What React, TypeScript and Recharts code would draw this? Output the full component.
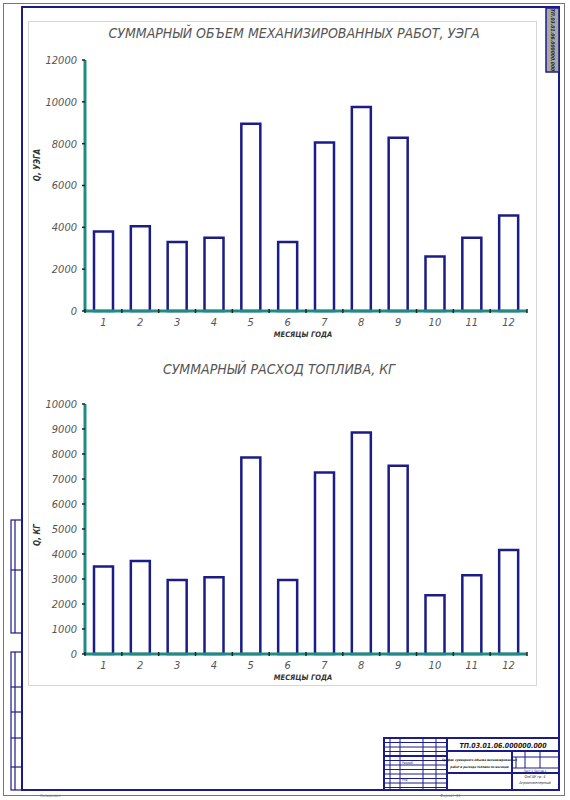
import { Bar, BarChart, XAxis, YAxis } from "recharts";

// месяцы года
const months = ["1", "2", "3", "4", "5", "6", "7", "8", "9", "10", "11", "12"];
// суммарный объем механизированных работ, у.э.га
const workVolume = [3800, 4050, 3300, 3500, 8950, 3300, 8050, 9750, 8280, 2600, 3500, 4560];
// суммарный расход топлива, кг
const fuelUse = [3500, 3720, 2960, 3070, 7860, 2960, 7260, 8860, 7530, 2350, 3150, 4160];
const workTicks = [0, 2000, 4000, 6000, 8000, 10000, 12000];
const fuelTicks = [0, 1000, 2000, 3000, 4000, 5000, 6000, 7000, 8000, 9000, 10000];

const workData = months.map((m, i) => ({ month: m, value: workVolume[i] }));
const fuelData = months.map((m, i) => ({ month: m, value: fuelUse[i] }));

const NAVY = "#1c1c88";
const TEAL = "#1f8c84";
const INK = "#555555";
const FONT = "'Liberation Sans Narrow', 'DejaVu Sans Condensed', 'Noto Sans', sans-serif";
const BAND = (527 - 85) / 12;

const MonthTick = (props: any) => {
  const { x, y, payload, index } = props;
  return (
    <g>
      <line x1={x - BAND / 2} x2={x - BAND / 2} y1={y - 2} y2={y + 2} stroke="#222" strokeWidth={1.5} />
      {index === 11 && <line x1={x + BAND / 2} x2={x + BAND / 2} y1={y - 2} y2={y + 2} stroke="#222" strokeWidth={1.5} />}
      <text x={x} y={y + 15} textAnchor="middle" fontSize={11} fontStyle="italic" fill={INK} fontFamily={FONT}>
        {payload.value}
      </text>
    </g>
  );
};

type ChartProps = {
  data: { month: string; value: number }[];
  ticks: number[];
  top: number;
  height: number;
  marginTop: number;
  marginBottom: number;
};

const MonthBars = ({ data, ticks, top, height, marginTop, marginBottom }: ChartProps) => (
  <div style={{ position: "absolute", left: 0, top }}>
    <BarChart width={570} height={height} data={data} margin={{ top: marginTop, right: 43, bottom: marginBottom, left: 25 }}>
      <XAxis
        dataKey="month"
        axisLine={{ stroke: TEAL, strokeWidth: 3 }}
        tickLine={false}
        tickSize={0}
        tickMargin={0}
        height={30}
        interval={0}
        tick={<MonthTick />}
      />
      <YAxis
        width={60}
        domain={[ticks[0], ticks[ticks.length - 1]]}
        ticks={ticks}
        interval={0}
        axisLine={{ stroke: TEAL, strokeWidth: 3 }}
        tickLine={{ stroke: "#222", strokeWidth: 1.5 }}
        tickSize={3}
        tickMargin={5}
        tick={{ fontSize: 11, fontStyle: "italic", fill: INK, fontFamily: FONT }}
      />
      <Bar dataKey="value" fill="#ffffff" stroke={NAVY} strokeWidth={2.5} barSize={19} isAnimationActive={false} />
    </BarChart>
  </div>
);

// мелкий текст штампа: рисуем крупно и сжимаем, чтобы обойти минимальный кегль
const Tiny = ({ x, y, scale, children, anchor = "middle", bold = false }: any) => (
  <g transform={`translate(${x} ${y}) scale(${scale})`}>
    <text x={0} y={0} textAnchor={anchor} fontSize={10} fontWeight={bold ? "bold" : "normal"}>
      {children}
    </text>
  </g>
);

const Sheet = () => (
  <svg width={570} height={800} style={{ position: "absolute", left: 0, top: 0 }}>
    <rect x={0} y={0} width={570} height={800} fill="#ffffff" />
    <rect x={3.5} y={3.5} width={561} height={792} fill="none" stroke="#777" strokeWidth={1} />
    <rect x={22} y={7} width={537} height={783} fill="none" stroke={NAVY} strokeWidth={2} />
    <rect x={28.5} y={21.5} width={508} height={664} fill="#ffffff" stroke="#d6d6d6" strokeWidth={1} />

    {/* штамп сверху справа */}
    <rect x={546} y={8} width={13} height={64} fill="#a8a8a8" stroke={NAVY} strokeWidth={1.5} />
    <g transform="translate(551 40) rotate(90)" fill="#222" fontFamily={FONT} fontStyle="italic">
      <Tiny x={0} y={0} scale={0.5} bold>
        ТП.03.01.06.000000.000
      </Tiny>
    </g>

    {/* левые графы */}
    <g fill="none" stroke={NAVY} strokeWidth={1.2}>
      <rect x={11} y={520} width={11} height={113} />
      <line x1={15} x2={15} y1={520} y2={633} />
      <line x1={11} x2={22} y1={570} y2={570} />
      <rect x={11} y={652} width={11} height={138} />
      <line x1={15} x2={15} y1={652} y2={790} />
      <line x1={11} x2={22} y1={687} y2={687} />
      <line x1={11} x2={22} y1={712} y2={712} />
      <line x1={11} x2={22} y1={738} y2={738} />
      <line x1={11} x2={22} y1={767} y2={767} />
    </g>

    {/* основная надпись */}
    <g fill="none" stroke={NAVY} strokeWidth={1}>
      <rect x={384} y={738} width={175} height={52} strokeWidth={2} />
      {[390, 400, 423, 436].map((x) => (
        <line key={x} x1={x} x2={x} y1={738} y2={790} />
      ))}
      <line x1={447} x2={447} y1={738} y2={790} strokeWidth={2} />
      {[742.5, 747, 751.5, 760.5, 765, 769.5, 774, 778.5, 783, 787.5].map((y) => (
        <line key={y} x1={384} x2={447} y1={y} y2={y} />
      ))}
      <line x1={384} x2={447} y1={756} y2={756} strokeWidth={2} />
      <line x1={447} x2={559} y1={751} y2={751} strokeWidth={2} />
      <line x1={447} x2={559} y1={773} y2={773} strokeWidth={2} />
      <line x1={512} x2={512} y1={751} y2={790} strokeWidth={2} />
      <line x1={512} x2={559} y1={757} y2={757} />
      <line x1={512} x2={559} y1={768} y2={768} />
      <line x1={525} x2={525} y1={751} y2={768} />
      <line x1={540} x2={540} y1={751} y2={768} />
      <line x1={516} x2={516} y1={757} y2={768} />
    </g>
    <g fill="#1a1a1a" fontFamily={FONT} fontStyle="italic">
      <Tiny x={503} y={747.5} scale={0.7} bold>
        ТП.03.01.06.000000.000
      </Tiny>
      <Tiny x={479.5} y={761} scale={0.3} bold>
        График суммарного объема механизированных
      </Tiny>
      <Tiny x={479.5} y={768} scale={0.3} bold>
        работ и расхода топлива по месяцам
      </Tiny>
      <Tiny x={535} y={778} scale={0.38}>
        ОмГАУ гр. 4
      </Tiny>
      <Tiny x={535} y={784} scale={0.38}>
        Агроинженерный
      </Tiny>
      <Tiny x={402} y={764} scale={0.33} anchor="start">
        Разраб.
      </Tiny>
      <Tiny x={402} y={781} scale={0.33} anchor="start">
        Утв.
      </Tiny>
      <Tiny x={535} y={772} scale={0.3}>
        Лист 1 Листов 1
      </Tiny>
    </g>
    <g fill="#777" fontFamily={FONT} fontStyle="italic">
      <Tiny x={40} y={797} scale={0.4} anchor="start">
        Копировал
      </Tiny>
      <Tiny x={440} y={797} scale={0.4} anchor="start">
        Формат А1
      </Tiny>
    </g>

    {/* заголовки и подписи */}
    <g fill={INK} fontFamily={FONT} fontStyle="italic">
      <text x={294} y={38} textAnchor="middle" fontSize={14}>
        СУММАРНЫЙ ОБЪЕМ МЕХАНИЗИРОВАННЫХ РАБОТ, УЭГА
      </text>
      <text x={279} y={374} textAnchor="middle" fontSize={14}>
        СУММАРНЫЙ РАСХОД ТОПЛИВА, КГ
      </text>
    </g>
    <g fill="#333" fontFamily={FONT} fontStyle="italic">
      <text x={37} y={165} transform="rotate(-90 37 165)" textAnchor="middle" dominantBaseline="middle" fontSize={8} fontWeight="bold">
        Q, УЭГА
      </text>
      <text x={37} y={535} transform="rotate(-90 37 535)" textAnchor="middle" dominantBaseline="middle" fontSize={8} fontWeight="bold">
        Q, КГ
      </text>
      <text x={303} y={337} textAnchor="middle" fontSize={7.5} fontWeight="bold">
        МЕСЯЦЫ ГОДА
      </text>
      <text x={303} y={680} textAnchor="middle" fontSize={7.5} fontWeight="bold">
        МЕСЯЦЫ ГОДА
      </text>
    </g>
  </svg>
);

export default function App() {
  return (
    <div style={{ position: "absolute", left: 0, top: 0, width: 570, height: 800, background: "#fff" }}>
      <Sheet />
      <MonthBars data={workData} ticks={workTicks} top={40} height={320} marginTop={20} marginBottom={19} />
      <MonthBars data={fuelData} ticks={fuelTicks} top={380} height={310} marginTop={24} marginBottom={6} />
    </div>
  );
}
